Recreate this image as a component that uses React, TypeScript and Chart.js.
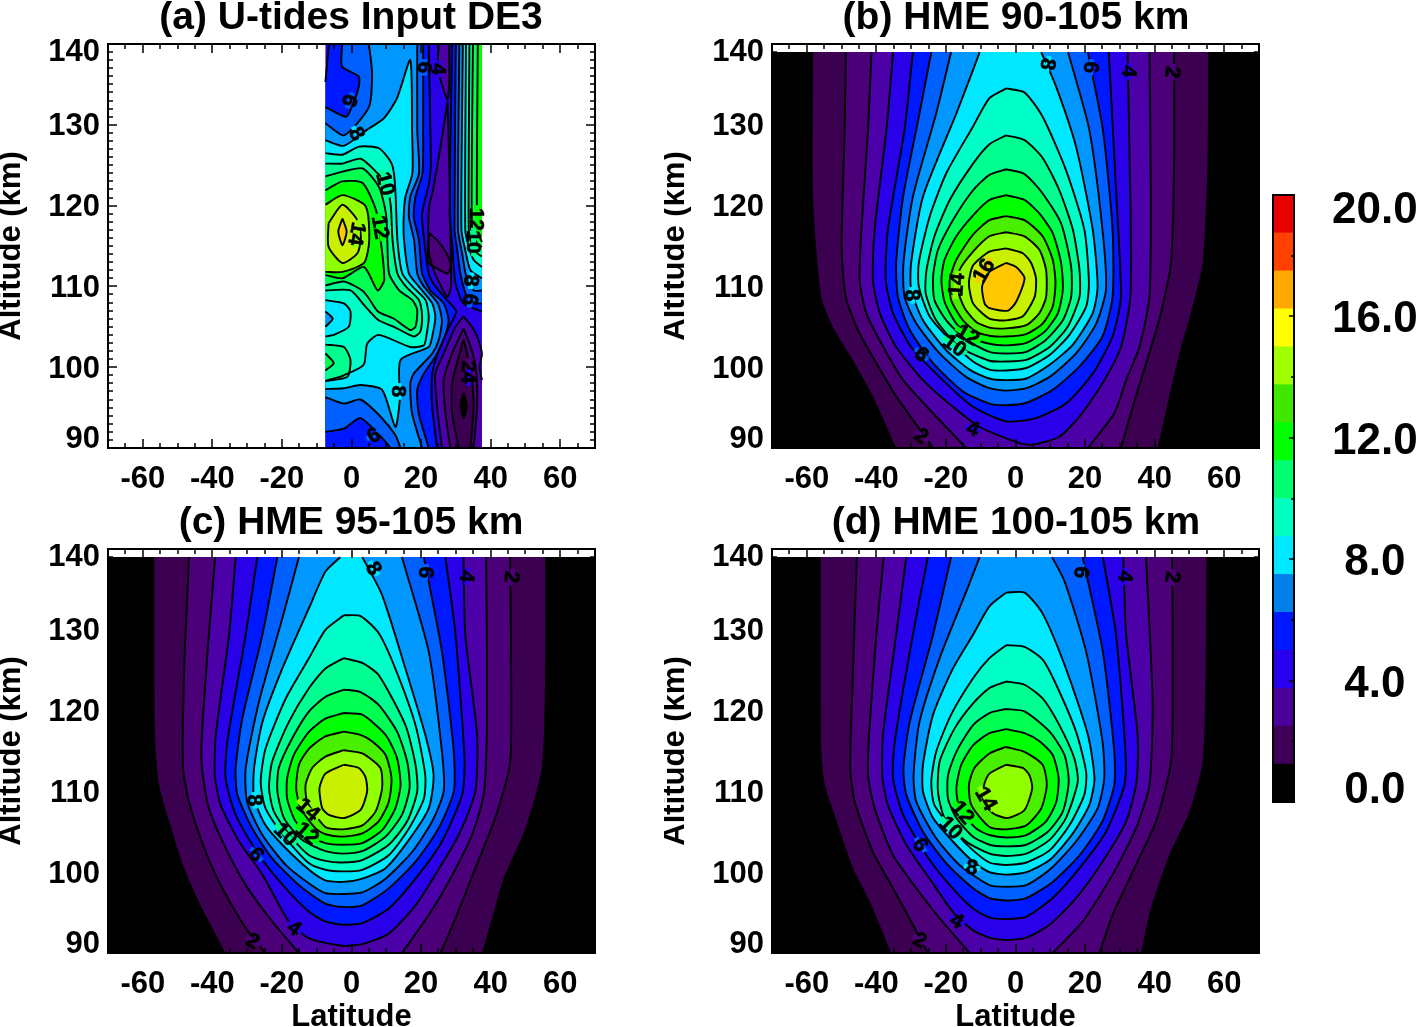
import React, { useEffect, useRef } from "react";
import { Chart, registerables } from "chart.js";

Chart.register(...registerables);

type Pt = [number, number];
type Layer = { level: number; band: number; line: boolean; pts: Pt[] };
type Lab = [string, number, number, number, number];

const bandColors = ["#000000", "#3c0050", "#4b0078", "#4c00a8", "#2a00e8", "#0018ff", "#0060ff", "#0098ff", "#00e8ff", "#00ffc8", "#00ff90", "#00ff50", "#00ff00", "#48f000", "#90ff00", "#c8f000", "#ffc800"];
const colorbarColors = ["#000000", "#40005a", "#4b009b", "#2800ee", "#0018ff", "#0080e8", "#00e8ff", "#00ffc0", "#00ff70", "#00ff00", "#40e800", "#a0ff00", "#ffff00", "#ffa800", "#ff4000", "#e80000"];
const colorbarStep = 1.25;
const colorbarLabelValues = [0.37, 3.87, 7.87, 11.87, 15.87, 19.47];
const colorbarTickValues = [2, 4, 6, 8, 10, 12, 14, 16, 18];
const latLabels = [-60, -40, -20, 0, 20, 40, 60];
const latMinorTicks = [-65, -55, -50, -45, -35, -30, -25, -15, -10, -5, 5, 10, 15, 25, 30, 35, 45, 50, 55, 65];
const altMajorTicks = [100, 110, 120, 130];
const altMinorTicks = [91, 92, 93, 94, 95, 96, 97, 98, 99, 101, 102, 103, 104, 105, 106, 107, 108, 109, 111, 112, 113, 114, 115, 116, 117, 118, 119, 121, 122, 123, 124, 125, 126, 127, 128, 129, 131, 132, 133, 134, 135, 136, 137, 138, 139];
const altLabelValues = [91.05, 99.75, 109.75, 119.75, 129.75, 138.9];

const contoursB: Pt[][] = [
  [[-58.2, 139], [-58.2, 121], [-55.8, 108.7], [-52, 104.6], [-46.2, 100.5], [-41, 96.4], [-34.3, 90], [40.9, 90], [44.2, 96.4], [47.6, 102.5], [50.4, 106.7], [53.8, 112.9], [55.2, 125.2], [55.4, 139]],
  [[-48.8, 139], [-49.1, 129.4], [-50, 114.9], [-48.8, 108.7], [-45.3, 104.6], [-40, 100.5], [-34.3, 96.4], [-29.5, 93.5], [-23.7, 90], [30.3, 90], [34.6, 96.4], [39, 102.5], [41.8, 106.7], [44.7, 112.9], [45.6, 125.2], [45.6, 139]],
  [[-41.4, 139], [-42.4, 129.4], [-44.3, 117], [-44.8, 110.8], [-42.9, 106.7], [-38, 102.5], [-32.3, 98.4], [-23.7, 94.3], [-14.2, 90], [20.8, 90], [28.4, 94.3], [31.8, 98.4], [35.6, 102.5], [38.5, 108.7], [38.9, 121.1], [38.5, 139]],
  [[-35.2, 139], [-37.1, 129.4], [-40.5, 117], [-41, 110.8], [-39, 106.7], [-34.3, 102.5], [-26.6, 98.4], [-18, 95.1], [-10.3, 92.6], [1.1, 90.6], [5, 90.4], [12.6, 91.4], [18.4, 93.9], [25, 98], [30.3, 102.5], [33, 108.7], [33, 121.1], [32.2, 139]],
  [[-29.5, 139], [-31.9, 129.4], [-36.7, 117], [-37.3, 110.8], [-35.2, 106.7], [-30, 102.5], [-20.9, 98.4], [-12.2, 95.1], [-2.7, 93.3], [5.9, 93.7], [14.5, 95.5], [22.2, 99.2], [27.9, 103.8], [30.3, 108.7], [29, 121.1], [26.8, 139]],
  [[-24.2, 139], [-27.6, 131.4], [-32.3, 121.1], [-34.3, 112.9], [-33.8, 108.7], [-30.4, 104.6], [-23.7, 100.5], [-15.1, 97], [-7.5, 95.5], [-2.7, 95.3], [3.1, 95.6], [10.7, 97.2], [18.4, 100.1], [25, 103.8], [27.9, 108.7], [27.9, 117], [25.1, 129.4], [20.8, 139]],
  [[-18.5, 139], [-22.8, 131.4], [-29.5, 121.1], [-32.2, 112.9], [-31.9, 108.7], [-28.5, 105.4], [-21.8, 101.7], [-14.2, 98.8], [-7.5, 97.4], [-2.7, 97.1], [3.1, 97.4], [9.8, 98.8], [17.4, 101.7], [23.2, 105.4], [26, 109.6], [25, 117], [21.2, 129.4], [15.1, 139]],
  [[-10.3, 139], [-12.2, 136.8], [-17, 131.4], [-26.6, 121.1], [-30, 112.9], [-30, 109.6], [-26.6, 105.8], [-19.9, 102.1], [-13.2, 99.7], [-7.5, 98.6], [-2.7, 98.4], [3.1, 98.6], [9.8, 100.3], [16.5, 102.8], [22.2, 106.7], [23.6, 110], [22.2, 117], [17.4, 127.3], [11.7, 134.7], [7.4, 139]],
  [[-2.7, 134.5], [-7.5, 133.3], [-12.2, 129.8], [-19.9, 124], [-24.7, 118.6], [-27.8, 112.9], [-27.8, 110], [-24.7, 106.3], [-18, 103], [-12.2, 100.7], [-7.5, 99.7], [-2.7, 99.6], [3.1, 99.9], [9.8, 101.5], [15.5, 104], [20.3, 107.5], [21.1, 110.4], [19.8, 117], [14.5, 124.4], [7.8, 131], [2.6, 134]],
  [[-2.7, 128.7], [-7.5, 127.6], [-12.2, 125.2], [-18.9, 120.7], [-23.3, 116.2], [-25.6, 112], [-25.8, 109.1], [-22.8, 105.8], [-16.1, 102.5], [-7.5, 100.8], [-2.7, 100.7], [3.1, 100.9], [9.8, 102.5], [15, 105], [18.4, 108.7], [18.4, 112], [16.5, 117], [12.6, 121.9], [7.8, 125.9], [2.6, 128.1]],
  [[-2.7, 124.5], [-7.5, 123.8], [-12.2, 121.9], [-18, 118.2], [-22.3, 114.5], [-23.7, 111.2], [-23.3, 108.3], [-19.9, 105.8], [-14.2, 103.4], [-7.5, 101.9], [-2.7, 101.7], [3.1, 101.9], [8.8, 103.4], [13.6, 105.8], [16, 108.7], [16, 112.4], [13.1, 117.8], [7.8, 121.5], [2.6, 123.9]],
  [[-2.7, 121.3], [-7.5, 120.7], [-12.2, 118.8], [-17, 116.2], [-20.4, 113.3], [-21.3, 110.8], [-20.4, 108.1], [-17, 105.4], [-12.2, 103.6], [-7.5, 102.9], [-2.7, 102.7], [3.1, 103], [8.4, 104.4], [12.2, 106.7], [13.6, 109.6], [13.1, 112.9], [10.7, 116.6], [6.9, 119], [2.6, 120.7]],
  [[-2.7, 118.7], [-7.5, 118.2], [-12.2, 116.4], [-17, 113.3], [-18.9, 110.8], [-18.5, 108.3], [-15.1, 105.8], [-11.3, 104.4], [-7.5, 103.9], [-2.7, 103.8], [3.1, 104.1], [7.8, 105.4], [10.7, 107.5], [11.5, 110.4], [10.7, 113.3], [7.8, 116.2], [2.6, 118.2]],
  [[-2.7, 116.7], [-7.5, 116.2], [-12.2, 114.3], [-16.1, 112], [-16.6, 109.6], [-14.6, 107.3], [-11.3, 105.6], [-7.5, 104.9], [-2.7, 104.8], [3.1, 105.2], [6.9, 106.7], [8.8, 108.7], [8.8, 112], [6.9, 114.5], [2.6, 116.2]],
  [[-2.7, 114.7], [-7.5, 114.3], [-12.2, 112.6], [-13.4, 110.4], [-12.2, 107.9], [-7.5, 106], [-2.7, 105.8], [2.1, 106.3], [5.5, 108.7], [5.9, 111], [4.5, 112.9], [2.1, 114.1]],
  [[-2.7, 112.9], [-7.5, 111.8], [-9.6, 110], [-8.9, 107.9], [-7.5, 107.3], [-2.2, 107], [0.2, 108.1], [2.6, 111], [0.2, 112.4]],
];

const contoursC: Pt[][] = [
  [[-56.7, 139], [-56.5, 117], [-55.3, 110.8], [-52.4, 106.3], [-48.1, 100.5], [-42.9, 95.5], [-36.2, 90], [37.5, 90], [40.4, 94.3], [43.7, 99.2], [50, 105.4], [54.7, 112.9], [55.7, 125.2], [55.7, 139]],
  [[-46.7, 139], [-48.1, 125.2], [-48.4, 112.9], [-46.7, 108.7], [-41.9, 102.5], [-37.1, 98], [-30.4, 93.1], [-24.7, 90], [25.6, 90], [29.9, 94.3], [35.6, 100.5], [41.3, 106.7], [45.6, 113.7], [45.9, 125.2], [45.6, 139]],
  [[-39.2, 139], [-41, 129.4], [-43, 117], [-43, 112.9], [-41, 107.9], [-36.2, 103], [-30.4, 98.4], [-22.8, 93.9], [-15.1, 90], [14.5, 90], [22.2, 94.7], [27.9, 98.8], [34.6, 104.6], [38, 109.6], [38.9, 117], [38.9, 129.4], [38.7, 139]],
  [[-33.3, 139], [-35.2, 129.4], [-39, 117], [-39.3, 112], [-37.6, 108.3], [-32.3, 103.8], [-25.6, 99.7], [-18, 93.9], [-12.2, 91.8], [-2.7, 90.9], [3.1, 91.1], [10.7, 92.4], [18.4, 95.9], [24.1, 99.7], [30.8, 104.6], [35.6, 110], [36.1, 117], [32.7, 129.4], [32.2, 139]],
  [[-27.1, 139], [-30.4, 129.4], [-35.7, 116.2], [-36.2, 111.6], [-33.3, 107.1], [-26.6, 102.1], [-18.9, 98], [-12.2, 95.1], [-7.5, 93.9], [-2.7, 93.5], [3.1, 93.7], [10.7, 95.5], [18.4, 99.2], [26, 103.8], [31.8, 109.6], [32.5, 113.7], [29.9, 129.4], [27, 139]],
  [[-21.3, 139], [-25.6, 129.4], [-31.4, 119], [-33.3, 112.9], [-32.8, 109.6], [-28.5, 105.4], [-22.8, 101.7], [-15.1, 98.4], [-7.5, 96.1], [-2.7, 95.7], [3.1, 95.9], [10.7, 98], [18.4, 101.3], [25, 105.4], [29.4, 110], [29.4, 114.9], [26, 127.3], [20.8, 139]],
  [[-15.1, 139], [-19.9, 131.4], [-26.6, 121.1], [-30.4, 112.9], [-30, 108.7], [-25.6, 104.6], [-18.9, 100.9], [-12.2, 98.6], [-7.5, 97.4], [-2.7, 97.3], [3.1, 97.5], [9.8, 99.2], [17.4, 102.5], [23.2, 106.3], [26.5, 110], [26, 114.9], [22.2, 127.3], [14.5, 139]],
  [[-3.2, 139], [-7.5, 137.2], [-12.2, 132.7], [-19.9, 125.2], [-25.6, 118.6], [-28, 112.9], [-28, 109.1], [-24.7, 105.8], [-19.9, 103.4], [-12.2, 100.3], [-7.5, 99], [-2.7, 98.8], [3.1, 99.2], [9.8, 100.5], [16.5, 104], [22.2, 107.9], [23.6, 112], [21.2, 117], [15.5, 125.2], [8.8, 134.3], [3.1, 139]],
  [[-2.2, 131.8], [-7.5, 130], [-12.2, 126.5], [-18.9, 121.5], [-24.7, 115.3], [-26.1, 111.2], [-24.7, 107.9], [-18.9, 104.2], [-12.2, 101.1], [-7.5, 100.3], [-2.7, 100.1], [3.1, 100.3], [10.7, 102.1], [16.5, 105.4], [20.8, 109.1], [21.2, 112], [18.4, 118.2], [12.6, 125.2], [7.8, 129.6], [2.6, 131.7]],
  [[-2.2, 126.5], [-7.5, 125.2], [-12.2, 122.8], [-18, 118.6], [-22.8, 113.7], [-23.7, 110.4], [-22.3, 107.5], [-17, 104.2], [-12.2, 102.1], [-7.5, 101.4], [-2.7, 101.2], [3.1, 101.5], [10.7, 103.4], [16, 106.3], [18.9, 110], [18.4, 113.3], [15.5, 118.2], [7.8, 124.4], [3.1, 125.9]],
  [[-2.2, 122.6], [-7.5, 121.7], [-12.2, 119.9], [-17, 116.6], [-20.9, 112.9], [-21.3, 110], [-19.4, 106.7], [-14.2, 104], [-7.5, 102.6], [-2.7, 102.3], [3.1, 102.6], [9.8, 104.4], [14.5, 107.1], [16.7, 110.4], [16, 113.7], [13.1, 117.4], [7.8, 120.7], [2.6, 122.3]],
  [[-2.2, 119.7], [-7.5, 119], [-12.2, 117.4], [-16.6, 114.5], [-18.5, 111.6], [-18.5, 109.1], [-16.1, 106.3], [-11.3, 104.4], [-7.5, 103.6], [-2.7, 103.4], [3.1, 103.6], [8.8, 105.2], [12.6, 107.9], [14.1, 110.8], [13.1, 114.1], [9.8, 117], [3.1, 119.5]],
  [[-2.2, 117.4], [-7.5, 116.8], [-12.2, 115.3], [-15.1, 113.3], [-15.9, 110.4], [-14.6, 107.9], [-10.3, 105.4], [-7.5, 104.7], [-2.7, 104.4], [3.1, 104.8], [7.8, 106.3], [10.7, 108.7], [11.5, 111.6], [9.8, 114.5], [5.9, 116.2], [2.6, 117]],
  [[-2.2, 115.1], [-7.5, 114.3], [-11.3, 112.9], [-13.2, 110.8], [-12.7, 108.7], [-7.5, 105.6], [-2.7, 105.3], [3.1, 105.8], [6.9, 107.5], [8.8, 110.4], [8.3, 112.9], [3.1, 114.7]],
  [[-2.2, 113.3], [-7.5, 112.2], [-9.2, 110.4], [-8.4, 107.9], [-6.5, 107.1], [-2.2, 106.7], [2.6, 107.7], [4.5, 110], [4, 111.8], [2.1, 112.9]],
];

const contoursD: Pt[][] = [
  [[-56, 139], [-55.8, 114.9], [-54.8, 110.8], [-52, 107.1], [-46.7, 100.5], [-41.9, 96.4], [-35.7, 90], [36.1, 90], [38.9, 95.5], [44.2, 102.1], [50, 107.5], [53.8, 113.7], [54.7, 125.2], [54.9, 139]],
  [[-45.6, 139], [-46.7, 125.2], [-47.5, 112.9], [-46.2, 108.7], [-41, 102.5], [-35.2, 98], [-29.5, 93.5], [-25.2, 90], [24.1, 90], [27.9, 94.7], [34.6, 100.9], [40.4, 106.3], [44.7, 113.7], [45.2, 125.2], [45, 139]],
  [[-37.9, 139], [-40, 129.4], [-42.1, 117], [-42.4, 112], [-40.5, 107.9], [-35.2, 102.1], [-28.5, 98], [-21.8, 94.3], [-13.2, 90], [10.7, 90], [19.3, 93.9], [27.9, 99.7], [34.6, 105.4], [38.5, 110.8], [39.4, 121.1], [37.5, 139]],
  [[-31.4, 139], [-34.3, 129.4], [-38.1, 117], [-38.3, 112], [-36.7, 108.3], [-31.4, 103.4], [-24.7, 99.2], [-18, 95.1], [-12.2, 92.8], [-7.5, 91.9], [-2.7, 91.6], [3.1, 91.9], [9.8, 93.5], [17.4, 96.8], [25, 101.3], [31.8, 106.3], [34.8, 111.2], [35.1, 117], [31.8, 129.4], [31, 139]],
  [[-25.2, 139], [-29.5, 129.4], [-34.7, 116.2], [-35.2, 111.6], [-32.3, 107.1], [-25.6, 102.1], [-18.9, 98.4], [-12.2, 95.5], [-7.5, 94.4], [-2.7, 94.2], [3.1, 94.5], [10.7, 96.8], [18.4, 100.5], [26, 105], [31.3, 110.8], [31.6, 114.9], [28.9, 129.4], [25.1, 139]],
  [[-18.5, 139], [-23.7, 129.4], [-30.4, 118.6], [-32.2, 112.9], [-31.4, 109.6], [-26.6, 105], [-19.9, 101.1], [-12.2, 98], [-7.5, 96.8], [-2.7, 96.5], [3.1, 96.8], [10.7, 98.8], [18.4, 102.1], [25, 106.3], [28.4, 110.8], [28.4, 114.9], [25.1, 127.3], [19.3, 139]],
  [[-10.3, 139], [-14.2, 134.7], [-21.8, 126.5], [-27.6, 118.6], [-29.3, 112], [-28.5, 108.7], [-22.8, 104.2], [-16.1, 100.9], [-7.5, 98.4], [-2.7, 98.2], [3.1, 98.4], [9.8, 100.3], [17.4, 103.8], [23.6, 107.9], [25.5, 111.6], [25, 116.2], [20.3, 127.3], [14.1, 136], [10.5, 139]],
  [[-2.7, 134.6], [-7.5, 132.9], [-12.2, 129.4], [-18, 125.2], [-23.7, 119.5], [-26.6, 113.3], [-26.6, 110], [-23.7, 106.7], [-18, 103.8], [-12.2, 101.3], [-7.5, 100], [-2.7, 99.7], [3.1, 100], [9.8, 101.5], [16.5, 104.8], [21.2, 108.3], [22.7, 111.6], [20.8, 117], [14.5, 125.2], [7.8, 132], [2.6, 134.6]],
  [[-2.7, 128.1], [-7.5, 126.5], [-12.2, 124], [-18.5, 119.5], [-22.8, 114.9], [-24.2, 111.2], [-23.3, 108.3], [-17, 104.8], [-12.2, 102.7], [-7.5, 101.2], [-2.7, 100.9], [3.1, 101.2], [9.8, 102.7], [15.5, 105.8], [19.8, 109.6], [20.3, 112.4], [17.4, 117.4], [11.7, 123.2], [7.8, 126.3], [2.6, 127.9]],
  [[-2.7, 123.6], [-7.5, 122.8], [-12.2, 120.9], [-17.5, 117.8], [-21.8, 113.7], [-22.3, 110], [-20.4, 106.7], [-14.2, 103.8], [-7.5, 102.3], [-2.7, 102], [3.1, 102.3], [9.8, 104], [14.5, 106.7], [17.9, 111.2], [16.9, 114.1], [12.6, 118.2], [7.8, 121.5], [2.6, 123.2]],
  [[-2.7, 120.2], [-7.5, 119.7], [-12.2, 118.2], [-17, 114.9], [-19.4, 112], [-19.4, 109.1], [-17, 106.7], [-12.2, 104.4], [-7.5, 103.4], [-2.7, 103.2], [3.1, 103.4], [9.3, 105], [13.6, 107.5], [15.3, 111.2], [14.1, 114.5], [9.8, 117.4], [2.6, 119.9]],
  [[-2.7, 117.7], [-7.5, 117.2], [-12.2, 115.7], [-15.6, 113.3], [-17, 110.4], [-16.1, 107.9], [-11.3, 105.4], [-7.5, 104.6], [-2.7, 104.3], [3.1, 104.6], [8.8, 106.3], [11.7, 108.7], [12.4, 111.6], [10.7, 114.5], [6.9, 116.2], [2.6, 117.2]],
  [[-2.7, 115.5], [-7.5, 114.7], [-11.8, 112.9], [-13.4, 110.8], [-12.7, 108.3], [-7.5, 105.6], [-2.7, 105.3], [3.1, 105.8], [7.4, 107.9], [9, 110.8], [7.8, 113.3], [2.6, 114.9]],
  [[-2.7, 113.3], [-7.5, 112.2], [-8.9, 111], [-9.4, 109.1], [-6.5, 107.3], [-2.2, 106.7], [2.6, 107.7], [4.8, 110.4], [4, 112], [2.1, 112.9]],
];

const layersA: Layer[] = [
  { level: 0, band: 4, line: false, pts: [[-7.5, 140], [37.5, 140], [37.5, 90], [-7.5, 90]] },
  { level: 4, band: 3, line: true, pts: [[25.1, 140], [24.8, 137], [26.5, 134.3], [27.6, 133.1], [28.1, 135.5], [28.1, 140]] },
  { level: 4, band: 3, line: true, pts: [[27.6, 132.9], [25.6, 127.3], [23.4, 121.9], [22.2, 119.5], [22.2, 114.5], [23.6, 112], [27.5, 108.7], [28.6, 110], [28.4, 117], [28.1, 125.2]] },
  { level: 3, band: 2, line: true, pts: [[22.3, 116.6], [24.7, 115.7], [27.3, 114.1], [28.5, 112.6], [27.6, 111.6], [24.7, 112.2], [22.1, 113]] },
  { level: 4, band: 3, line: true, pts: [[32.2, 106.3], [29.9, 105], [26.5, 101.7], [24.1, 99.2], [24.6, 95.1], [26, 90], [37.5, 90], [37.5, 98.4], [36.8, 100], [37.5, 101.7], [36.1, 103.8], [34.6, 105]] },
  { level: 3, band: 2, line: true, pts: [[32.2, 104.8], [28.9, 101.7], [26.5, 98.4], [27, 94.3], [28.4, 90], [35.1, 90], [36.1, 95.1], [35.9, 99.2], [34.6, 102.1]] },
  { level: 2, band: 1, line: true, pts: [[32.2, 103.4], [30.3, 100.5], [28.9, 98], [28.9, 94.3], [30.8, 90], [34.2, 90], [35.1, 95.1], [34.6, 98.4], [33.2, 101.7]] },
  { level: 1, band: 0, line: true, pts: [[32.2, 96.8], [31.3, 95.3], [32.2, 93.7], [33.2, 95.3]] },
  { level: 5, band: 5, line: true, pts: [[-6.5, 140], [22.2, 140], [22.8, 125.2], [22.3, 122.8], [20.3, 119], [20.9, 115.7], [22.2, 111.6], [24.1, 110], [27.9, 108.1], [30.1, 106.9], [27.9, 104.8], [25.1, 102.1], [23.2, 99.2], [23.2, 95.1], [24.6, 90], [-7.5, 90], [-7.5, 135.3]] },
  { level: 5, band: 5, line: true, pts: [[28.9, 140], [28.2, 119], [28.9, 115.3], [29.9, 110.4], [32.2, 107.9], [37.5, 106.9], [37.5, 140]] },
  { level: 6, band: 6, line: true, pts: [[-2.7, 140], [20.6, 140], [20.6, 129.4], [20.4, 124], [18.4, 121.1], [17.9, 118.6], [19.4, 115.7], [20.3, 111.6], [22.7, 109.5], [26.5, 107.9], [27.9, 105.8], [26.5, 103.4], [24.1, 101.3], [20.8, 99.2], [18.9, 97.2], [19.3, 94.3], [22.2, 90], [11.2, 90], [9.3, 91], [2.6, 93.7], [-2.2, 92.4], [-7.5, 92], [-7.5, 132.2], [-1.7, 131], [-0.3, 131.8], [2.1, 134.7], [2.1, 136], [-2.7, 137.2]] },
  { level: 6, band: 6, line: true, pts: [[30, 140], [29.6, 117], [30.3, 114.9], [31.3, 111.6], [33.2, 108.7], [35.6, 107.9], [37.5, 107.9], [37.5, 140]] },
  { level: 7, band: 7, line: true, pts: [[5, 140], [18.9, 140], [18.9, 129.4], [19.4, 124], [16.9, 121.1], [16.5, 118.6], [18, 115.7], [18.9, 111.6], [20.8, 110], [24.8, 107.9], [26, 105.8], [25.1, 103.4], [23.2, 101.7], [17.9, 99.2], [16.9, 98], [17.4, 94.3], [20.3, 90], [14.1, 90], [12.6, 91.6], [8.3, 93.9], [2.6, 96], [-2.2, 95.5], [-7.5, 96.3], [-7.5, 130.2], [-2.2, 128.7], [5, 132.2], [5.9, 136.4]] },
  { level: 7, band: 7, line: true, pts: [[31, 140], [30.6, 117], [31.8, 114.1], [33, 111.2], [35.1, 109.5], [37.5, 109.5], [37.5, 140]] },
  { level: 8, band: 8, line: true, pts: [[-7.5, 128.1], [-2.2, 127.4], [4.5, 129.4], [9.3, 130.8], [13.1, 133.3], [16.9, 138], [17.4, 129.4], [17.5, 124], [15.5, 121.1], [15, 118.6], [15.1, 115.7], [16.5, 111.6], [19.3, 110], [23.2, 107.9], [24.1, 106.2], [23.2, 103.8], [22.2, 102.5], [14.1, 100.9], [13.9, 96], [12.6, 92.6], [8.8, 97.2], [2.6, 97.8], [-2.2, 97.4], [-7.5, 97.3]] },
  { level: 8, band: 8, line: true, pts: [[32, 140], [31.6, 117], [32.7, 114.5], [34.2, 112], [37.5, 111], [37.5, 140]] },
  { level: 9, band: 9, line: true, pts: [[-7.5, 126.5], [-2.6, 126.3], [2.2, 127.3], [7.9, 127.1], [11.3, 125.4], [12.2, 124], [12.7, 121.1], [13.2, 115.7], [14.6, 111.6], [17.5, 110], [21.3, 108.3], [22.2, 106.2], [21.5, 103.8], [20.8, 102.7], [16.9, 102.5], [7.8, 104], [4.5, 102.9], [3.5, 100.3], [-2.2, 99], [-7.5, 98.3]] },
  { level: 9, band: 9, line: true, pts: [[32.9, 140], [32.7, 117], [33.7, 114.9], [35.1, 113.3], [37.5, 112.4], [37.5, 140]] },
  { level: 10, band: 10, line: true, pts: [[-7.5, 125.2], [-2.6, 125.2], [2.7, 125.8], [7.5, 124], [9.9, 122.8], [11.3, 119.9], [11.8, 115.7], [13.2, 111.6], [15.6, 110], [19.4, 108.3], [20.3, 106.2], [19.8, 104.4], [17.9, 103.8], [12.2, 105], [7.8, 105.8], [4, 107.5], [-0.3, 109.5], [-7.5, 109.5]] },
  { level: 10, band: 10, line: true, pts: [[-7.5, 102.8], [-2.2, 102.5], [-0.3, 100.9], [-1.2, 98.8], [-7.5, 98.3]] },
  { level: 11, band: 11, line: true, pts: [[-7.5, 101.7], [-5.1, 100.5], [-7.5, 99.6]] },
  { level: 9, band: 8, line: true, pts: [[-7.5, 108.3], [-2.2, 107.9], [-0.3, 106.9], [-0.8, 105], [-5.1, 104], [-7.5, 103.8]] },
  { level: 8, band: 7, line: true, pts: [[-7.5, 106.9], [-5.4, 106], [-7.5, 105]] },
  { level: 10, band: 10, line: true, pts: [[33.9, 140], [33.7, 117], [34.6, 115.3], [36.1, 114.1], [37.5, 113.7], [37.5, 140]] },
  { level: 11, band: 11, line: true, pts: [[-7.5, 123.6], [-2.6, 124.2], [3.2, 124.6], [7.9, 122.3], [9.9, 119], [10.3, 115.7], [10.8, 111.6], [13.7, 109.5], [17.5, 108.3], [18.9, 107.1], [18.4, 105], [16.9, 104.6], [12.2, 106], [7.6, 106.9], [5, 108.5], [3.1, 109.5], [-2.2, 110.6], [-7.5, 110.1]] },
  { level: 11, band: 11, line: true, pts: [[34.9, 140], [34.6, 117], [36.1, 115.3], [37.5, 114.9], [37.5, 140]] },
  { level: 12, band: 12, line: true, pts: [[-7.5, 121.9], [-2.6, 123], [3.2, 122.8], [7, 119.5], [8.4, 115.7], [9.4, 110.8], [7.5, 109.5], [3.6, 112.4], [-2.6, 111], [-7.5, 111.4]] },
  { level: 12, band: 12, line: true, pts: [[36.3, 140], [36.1, 117], [37.5, 115.5], [37.5, 140]] },
  { level: 13, band: 14, line: true, pts: [[-7.5, 120.1], [-2.6, 121.3], [4.1, 119.9], [5.1, 115.7], [3.6, 112.9], [-2.6, 111.8], [-7.5, 111.8]] },
  { level: 14, band: 15, line: true, pts: [[-6.6, 117.8], [-2.6, 120.1], [1.7, 118.2], [2.7, 116.1], [1.7, 114.1], [-2.6, 112.9], [-6.6, 114.9]] },
  { level: 16, band: 16, line: true, pts: [[-2.6, 118.4], [-3.8, 116.8], [-2.6, 115.1], [-1.4, 116.8]] },
];

const labelsA: Lab[] = [["6", -0.5, 133, 110, 6], ["8", 1.6, 128.9, 60, 8], ["10", 9.8, 122.7, 75, 10], ["12", 8.3, 117.3, 80, 12], ["14", 1.6, 116.5, 100, 14], ["6", 21, 137.1, 90, 6], ["4", 25.1, 136.9, 90, 4], ["12", 36.1, 118.3, 90, 12], ["10", 35.1, 115.5, 90, 10], ["8", 34.4, 110.7, 95, 8], ["6", 34.2, 108.4, 100, 6], ["8", 13.6, 97, 90, 8], ["6", 6.4, 91.6, -30, 6], ["2", 33.7, 100.1, 90, 2], ["4", 33.7, 98.7, 90, 4]];
const labelsB: Lab[] = [["8", 9.3, 137.5, 100, 8], ["6", 21.7, 137.1, 95, 6], ["4", 32.7, 136.6, 95, 4], ["2", 45.2, 136.5, 95, 2], ["2", -27, 91.5, 35, 2], ["4", -12.2, 92.4, 20, 4], ["6", -27, 101.6, 40, 6], ["8", -29.7, 108.9, 85, 8], ["10", -17.5, 102.7, 35, 10], ["12", -13.7, 104, 30, 12], ["14", -17, 110.2, -85, 14], ["16", -9.2, 112, -60, 16]];
const labelsC: Lab[] = [["8", 6.4, 137.6, 60, 8], ["6", 21.4, 137.1, 95, 6], ["4", 33.2, 136.6, 95, 4], ["2", 46.1, 136.5, 95, 2], ["2", -28.3, 91.5, 30, 2], ["4", -16.4, 93.1, 35, 4], ["6", -27.3, 102.2, 50, 6], ["8", -27.8, 108.9, 85, 8], ["10", -18.9, 104.7, 45, 10], ["12", -12.7, 104.8, 40, 12], ["14", -12.4, 107.8, 40, 14]];
const labelsD: Lab[] = [["6", 19, 137.1, 95, 6], ["4", 31.6, 136.6, 95, 4], ["2", 45.2, 136.5, 95, 2], ["2", -27.4, 91.6, 30, 2], ["4", -16.8, 94, 30, 4], ["6", -27.3, 103.4, 55, 6], ["8", -12.5, 100.6, 10, 8], ["10", -18.5, 105.5, 45, 10], ["12", -15.1, 107.4, 50, 12], ["14", -8.4, 109.1, 60, 14]];

const FONT = "'Liberation Sans', Arial, sans-serif";
const CURVE = 0.22;

function nestedLayers(contours: Pt[][]): Layer[] {
  const base: Layer = { level: 0, band: 0, line: false, pts: [[-70, 139], [70, 139], [70, 90], [-70, 90]] };
  return [base, ...contours.map((pts, i) => ({ level: i + 1, band: i + 1, line: i > 0, pts }))];
}

function isEdge(p: Pt, q: Pt, xEdges: number[], yEdges: number[]) {
  return (p[0] === q[0] && xEdges.includes(p[0])) || (p[1] === q[1] && yEdges.includes(p[1]));
}

function fillPoints(pts: Pt[], xEdges: number[], yEdges: number[]) {
  const out: { x: number; y: number }[] = [];
  const n = pts.length;
  for (let i = 0; i <= n; i++) {
    const p = pts[i % n];
    out.push({ x: p[0], y: p[1] });
    if (i === n) break;
    const q = pts[(i + 1) % n];
    if (isEdge(p, q, xEdges, yEdges)) {
      out.push({ x: p[0], y: p[1] });
      out.push({ x: q[0], y: q[1] });
    }
  }
  return out;
}

function strokePoints(pts: Pt[], xEdges: number[], yEdges: number[]) {
  const out: { x: number; y: number }[] = [];
  const n = pts.length;
  for (let i = 0; i <= n; i++) {
    const p = pts[i % n];
    out.push({ x: p[0], y: p[1] });
    if (i === n) break;
    const q = pts[(i + 1) % n];
    if (isEdge(p, q, xEdges, yEdges)) out.push({ x: NaN, y: NaN });
  }
  return out;
}

function buildDatasets(layers: Layer[], xEdges: number[], yEdges: number[]) {
  const sets: any[] = [];
  layers.forEach((l, i) => {
    sets.push({ data: fillPoints(l.pts, xEdges, yEdges), fill: "shape", backgroundColor: bandColors[l.band], borderWidth: 0, pointRadius: 0, tension: CURVE, order: 2000 - i });
    if (l.line) sets.push({ data: strokePoints(l.pts, xEdges, yEdges), fill: false, borderColor: "#000", borderWidth: 1.9, pointRadius: 0, spanGaps: false, tension: CURVE, order: 500 - i });
  });
  return sets;
}

function framePlugin(xMajor: number[], xMinor: number[], yMajor: number[], yMinor: number[]) {
  return {
    id: "frame",
    afterDatasetsDraw(chart: any) {
      const { ctx, chartArea: a, scales } = chart;
      const { x, y } = scales;
      ctx.save();
      ctx.strokeStyle = "#000";
      ctx.lineWidth = 1.5;
      const seg = (x0: number, y0: number, x1: number, y1: number) => {
        ctx.beginPath();
        ctx.moveTo(x0, y0);
        ctx.lineTo(x1, y1);
        ctx.stroke();
      };
      const xTick = (vals: number[], len: number) => vals.forEach((v) => {
        const px = Math.round(x.getPixelForValue(v));
        seg(px, a.top, px, a.top + len);
        seg(px, a.bottom, px, a.bottom - len);
      });
      const yTick = (vals: number[], len: number) => vals.forEach((v) => {
        const py = Math.round(y.getPixelForValue(v));
        seg(a.left, py, a.left + len, py);
        seg(a.right, py, a.right - len, py);
      });
      xTick(xMajor, 9);
      xTick(xMinor, 5);
      yTick(yMajor, 9);
      yTick(yMinor, 5);
      ctx.lineWidth = 2;
      ctx.strokeRect(a.left, a.top, a.right - a.left, a.bottom - a.top);
      ctx.restore();
    },
  };
}

function labelPlugin(labels: Lab[]) {
  return {
    id: "contourLabels",
    afterDatasetsDraw(chart: any) {
      const { ctx, scales } = chart;
      ctx.save();
      ctx.font = `bold 21px ${FONT}`;
      ctx.textAlign = "center";
      ctx.textBaseline = "middle";
      ctx.lineWidth = 0.6;
      ctx.strokeStyle = "#000";
      labels.forEach(([text, lat, alt, angle, level]) => {
        const w = ctx.measureText(text).width + 5;
        ctx.save();
        ctx.translate(scales.x.getPixelForValue(lat), scales.y.getPixelForValue(alt));
        ctx.rotate((angle * Math.PI) / 180);
        ctx.fillStyle = bandColors[level];
        ctx.fillRect(-w / 2, -2.5, w, 5);
        ctx.fillStyle = "#000";
        ctx.fillText(text, 0, 1);
        ctx.strokeText(text, 0, 1);
        ctx.restore();
      });
      ctx.restore();
    },
  };
}

type PanelProps = { left: number; top: number; width: number; height: number; title: string; layers: Layer[]; labels: Lab[]; showLat: boolean; xEdges: number[]; yEdges: number[] };

function Panel(p: PanelProps) {
  const ref = useRef<HTMLCanvasElement>(null);
  useEffect(() => {
    const chart = new Chart(ref.current as HTMLCanvasElement, {
      type: "line",
      data: { datasets: buildDatasets(p.layers, p.xEdges, p.yEdges) },
      options: {
        animation: false,
        responsive: false,
        devicePixelRatio: 1,
        plugins: {
          legend: { display: false },
          tooltip: { enabled: false },
          title: { display: true, text: p.title, color: "#000", font: { family: FONT, size: 39, weight: "bold", lineHeight: 1.2 }, padding: { top: 1.5, bottom: 2.7 } },
        },
        scales: {
          x: {
            type: "linear",
            min: -70,
            max: 70,
            grid: { display: false, drawTicks: false },
            border: { display: false },
            ticks: { color: "#000", font: { family: FONT, size: 31, weight: "bold" }, padding: 13, autoSkip: false, maxRotation: 0, minRotation: 0, callback: (v: any) => String(v) },
            afterBuildTicks: (s: any) => { s.ticks = latLabels.map((value) => ({ value })); },
            afterFit: (s: any) => { s.height = p.height - 51 - 404; },
            title: { display: p.showLat, text: "Latitude", color: "#000", font: { family: FONT, size: 31, weight: "bold", lineHeight: 1.2 }, padding: { top: 0, bottom: -3 } },
          },
          y: {
            type: "linear",
            min: 90,
            max: 140,
            grid: { display: false, drawTicks: false },
            border: { display: false },
            ticks: { color: "#000", font: { family: FONT, size: 31, weight: "bold" }, padding: 8, autoSkip: false, callback: (v: any) => String(Math.round(v / 10) * 10) },
            afterBuildTicks: (s: any) => { s.ticks = altLabelValues.map((value) => ({ value })); },
            afterFit: (s: any) => { s.width = 108; },
            title: { display: true, text: "Altitude (km)", color: "#000", font: { family: FONT, size: 31, weight: "bold", lineHeight: 1.2 }, padding: { top: -7, bottom: 0 } },
          },
          y2: {
            type: "linear",
            position: "right",
            grid: { display: false, drawTicks: false },
            border: { display: false },
            ticks: { display: false },
            afterFit: (s: any) => { s.width = p.width - 108 - 487; },
          },
        },
      } as any,
      plugins: [labelPlugin(p.labels), framePlugin(latLabels, latMinorTicks, altMajorTicks, altMinorTicks)] as any,
    });
    return () => chart.destroy();
  }, []);
  return <canvas ref={ref} width={p.width} height={p.height} style={{ position: "absolute", left: p.left, top: p.top }} />;
}

function Colorbar() {
  const ref = useRef<HTMLCanvasElement>(null);
  useEffect(() => {
    const chart = new Chart(ref.current as HTMLCanvasElement, {
      type: "bar",
      data: {
        labels: ["scale"],
        datasets: colorbarColors.map((c) => ({ data: [colorbarStep], backgroundColor: c, barPercentage: 1, categoryPercentage: 1, borderWidth: 0 })),
      },
      options: {
        animation: false,
        responsive: false,
        devicePixelRatio: 1,
        layout: { padding: { left: 13, right: 0, top: 25, bottom: 25 } },
        plugins: { legend: { display: false }, tooltip: { enabled: false } },
        scales: {
          x: { stacked: true, display: false },
          y: {
            stacked: true,
            position: "right",
            min: 0,
            max: 20,
            grid: { display: false, drawTicks: false },
            border: { display: false },
            ticks: { color: "#000", font: { family: FONT, size: 44, weight: "bold" }, padding: 38, crossAlign: "center", autoSkip: false, callback: (v: any) => (Math.round(v / 4) * 4).toFixed(1) },
            afterBuildTicks: (s: any) => { s.ticks = colorbarLabelValues.map((value) => ({ value })); },
            afterFit: (s: any) => { s.width = 124; s.paddingTop = 0; s.paddingBottom = 0; },
          },
        },
      } as any,
      plugins: [{
        id: "barFrame",
        afterDatasetsDraw(c: any) {
          const { ctx, chartArea: a, scales } = c;
          ctx.save();
          ctx.strokeStyle = "#000";
          ctx.lineWidth = 1.5;
          colorbarTickValues.forEach((v) => {
            const py = Math.round(scales.y.getPixelForValue(v));
            ctx.beginPath();
            ctx.moveTo(a.right, py);
            ctx.lineTo(a.right - (v % 4 === 0 ? 5 : 3), py);
            ctx.stroke();
          });
          ctx.lineWidth = 2;
          ctx.strokeRect(a.left, a.top, a.right - a.left, a.bottom - a.top);
          ctx.restore();
        },
      }] as any,
    });
    return () => chart.destroy();
  }, []);
  return <canvas ref={ref} width={158} height={657} style={{ position: "absolute", left: 1260, top: 170 }} />;
}

export default function App() {
  const edgesA = { xEdges: [-7.5, 37.5], yEdges: [90, 140] };
  const edgesN = { xEdges: [-70, 70], yEdges: [90, 139] };
  return (
    <div style={{ position: "fixed", inset: 0, overflow: "hidden", background: "#fff" }}>
      <Panel left={0} top={-7} width={702} height={515} title="(a) U-tides Input DE3" layers={layersA} labels={labelsA} showLat={false} {...edgesA} />
      <Panel left={664} top={-7} width={704} height={515} title="(b) HME 90-105 km" layers={nestedLayers(contoursB)} labels={labelsB} showLat={false} {...edgesN} />
      <Panel left={0} top={498} width={702} height={535} title="(c) HME 95-105 km" layers={nestedLayers(contoursC)} labels={labelsC} showLat={true} {...edgesN} />
      <Panel left={664} top={498} width={704} height={535} title="(d) HME 100-105 km" layers={nestedLayers(contoursD)} labels={labelsD} showLat={true} {...edgesN} />
      <Colorbar />
    </div>
  );
}
